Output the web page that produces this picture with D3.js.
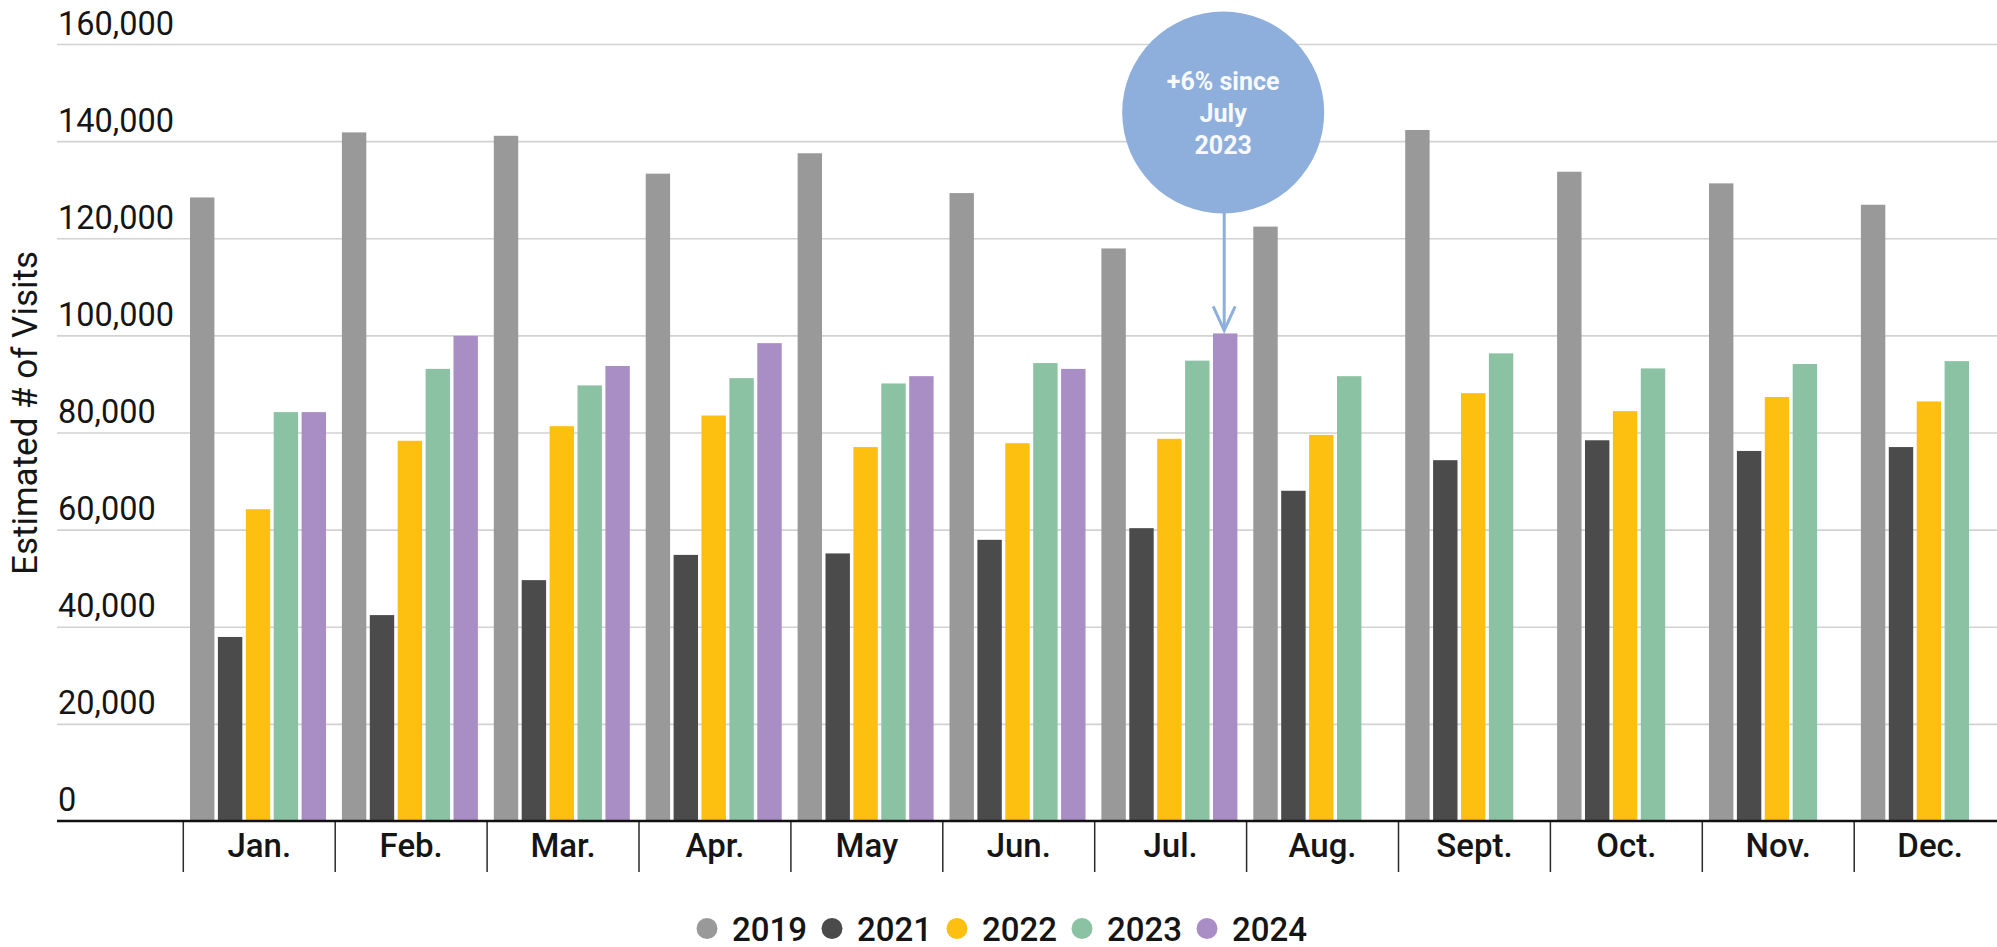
<!DOCTYPE html>
<html>
<head>
<meta charset="utf-8">
<script src="https://cdn.jsdelivr.net/npm/d3@7"></script>
<style>
  html, body { margin: 0; padding: 0; background: #ffffff; }
  svg { display: block; font-family: Roboto, "Noto Sans", sans-serif; }
</style>
</head>
<body>
<svg id="chart" width="1997" height="947"></svg>
<script>
// Monthly estimated visits by year
const months = ["Jan.", "Feb.", "Mar.", "Apr.", "May", "Jun.", "Jul.", "Aug.", "Sept.", "Oct.", "Nov.", "Dec."];
const years = ["2019", "2021", "2022", "2023", "2024"];

const visits2019 = [128400, 141800, 141100, 133300, 137500, 129300, 117900, 122400, 142300, 133700, 131300, 126900];
const visits2021 = [37900, 42400, 49600, 54800, 55100, 57900, 60300, 68000, 74300, 78400, 76200, 77000];
const visits2022 = [64200, 78300, 81300, 83500, 77000, 77800, 78700, 79500, 88100, 84400, 87300, 86400];
const visits2023 = [84200, 93100, 89700, 91200, 90100, 94300, 94800, 91600, 96300, 93200, 94100, 94700];
const visits2024 = [84200, 99900, 93700, 98400, 91600, 93100, 100400, null, null, null, null, null];

const yTicks = [0, 20000, 40000, 60000, 80000, 100000, 120000, 140000, 160000];
const seriesColors = ["#999999", "#4b4b4b", "#fdc010", "#8cc2a4", "#a98ec6"];

const annotationLines = ["+6% since", "July", "2023"];
const annotationMonth = "Jul.";
const annotationYear = "2024";

const seriesByYear = {
  "2019": visits2019, "2021": visits2021, "2022": visits2022,
  "2023": visits2023, "2024": visits2024
};

const svg = d3.select("#chart");
const W = 1997;
const plotLeft = 57;
const baseY = 821;

const y = d3.scaleLinear().domain([0, 160000]).range([baseY, 44]);
const x0 = d3.scaleBand().domain(months).range([183.3, 183.3 + 12 * 151.9]);
const x1 = d3.scaleBand().domain(years).range([6.7, 142.7]).paddingInner(0.125);
const color = d3.scaleOrdinal().domain(years).range(seriesColors);

// Horizontal gridlines and value labels
const yAxis = d3.axisRight(y)
  .tickValues(yTicks)
  .tickSize(W - plotLeft)
  .tickFormat(d3.format(","));

const yg = svg.append("g")
  .attr("transform", `translate(${plotLeft},0)`)
  .call(yAxis);
yg.select(".domain").remove();
yg.selectAll(".tick line")
  .attr("stroke", "#d2d2d2")
  .attr("stroke-width", 1.6)
  .filter(d => d === 0).remove();
yg.selectAll(".tick text")
  .attr("x", 1)
  .attr("dy", d => d === 0 ? -11 : -10)
  .attr("text-anchor", "start")
  .attr("font-size", 32.5)
  .attr("font-family", "Roboto, sans-serif")
  .attr("fill", "#151515");

// Axis title
svg.append("text")
  .attr("transform", "translate(37,413) rotate(-90)")
  .attr("text-anchor", "middle")
  .attr("font-size", 35)
  .attr("fill", "#151515")
  .text("Estimated # of Visits");

// Bars
const groups = svg.append("g")
  .selectAll("g")
  .data(months)
  .join("g")
  .attr("transform", d => `translate(${x0(d)},0)`);

groups.selectAll("rect")
  .data((m, i) => years
    .map(yr => ({ year: yr, value: seriesByYear[yr][i] }))
    .filter(d => d.value != null))
  .join("rect")
  .attr("x", d => x1(d.year))
  .attr("width", x1.bandwidth())
  .attr("y", d => y(d.value))
  .attr("height", d => baseY - y(d.value))
  .attr("fill", d => color(d.year));

// Category axis
const xAxis = d3.axisBottom(x0).tickSize(0);
const xg = svg.append("g")
  .attr("transform", `translate(0,${baseY})`)
  .call(xAxis);
xg.select(".domain").remove();
xg.selectAll(".tick text")
  .attr("y", 36)
  .attr("dy", 0)
  .attr("font-size", 33)
  .attr("font-weight", 500)
  .attr("font-family", "Roboto, sans-serif")
  .attr("fill", "#151515");

// Separators between months
svg.append("g")
  .selectAll("line")
  .data(months)
  .join("line")
  .attr("x1", d => x0(d))
  .attr("x2", d => x0(d))
  .attr("y1", baseY)
  .attr("y2", baseY + 51)
  .attr("stroke", "#2a2a2a")
  .attr("stroke-width", 1.5);

// Baseline
svg.append("line")
  .attr("x1", plotLeft).attr("x2", W)
  .attr("y1", baseY).attr("y2", baseY)
  .attr("stroke", "#111111")
  .attr("stroke-width", 2.6);

// Callout bubble pointing to the July 2024 bar
const annIdx = months.indexOf(annotationMonth);
const annX = x0(annotationMonth) + x1(annotationYear) + x1.bandwidth() / 2 - 1;
const annTop = y(seriesByYear[annotationYear][annIdx]);
const bubbleR = 101;
const bubbleCY = 112.5;
const calloutColor = "#8eafdc";

const ann = svg.append("g");
ann.append("line")
  .attr("x1", annX).attr("x2", annX)
  .attr("y1", bubbleCY + bubbleR - 2)
  .attr("y2", annTop - 3)
  .attr("stroke", calloutColor)
  .attr("stroke-width", 3);
ann.append("path")
  .attr("d", `M${annX - 11},${annTop - 27} L${annX},${annTop - 3} L${annX + 11},${annTop - 27}`)
  .attr("fill", "none")
  .attr("stroke", calloutColor)
  .attr("stroke-width", 3)
  .attr("stroke-linejoin", "miter");
ann.append("circle")
  .attr("cx", annX - 1)
  .attr("cy", bubbleCY)
  .attr("r", bubbleR)
  .attr("fill", calloutColor);
ann.selectAll("text")
  .data(annotationLines)
  .join("text")
  .attr("x", annX - 1)
  .attr("y", (d, i) => 90 + i * 32)
  .attr("text-anchor", "middle")
  .attr("font-size", 25)
  .attr("font-weight", 700)
  .attr("fill", "#f7f9fc")
  .text(d => d);

// Legend
const legend = svg.append("g");
const legendItems = legend.selectAll("g")
  .data(years)
  .join("g")
  .attr("transform", (d, i) => `translate(${707 + i * 125},928.5)`);
legendItems.append("circle")
  .attr("r", 10.5)
  .attr("fill", d => color(d));
legendItems.append("text")
  .attr("x", 25)
  .attr("y", 12)
  .attr("font-size", 33)
  .attr("font-weight", 500)
  .attr("fill", "#151515")
  .text(d => d);
</script>
</body>
</html>
